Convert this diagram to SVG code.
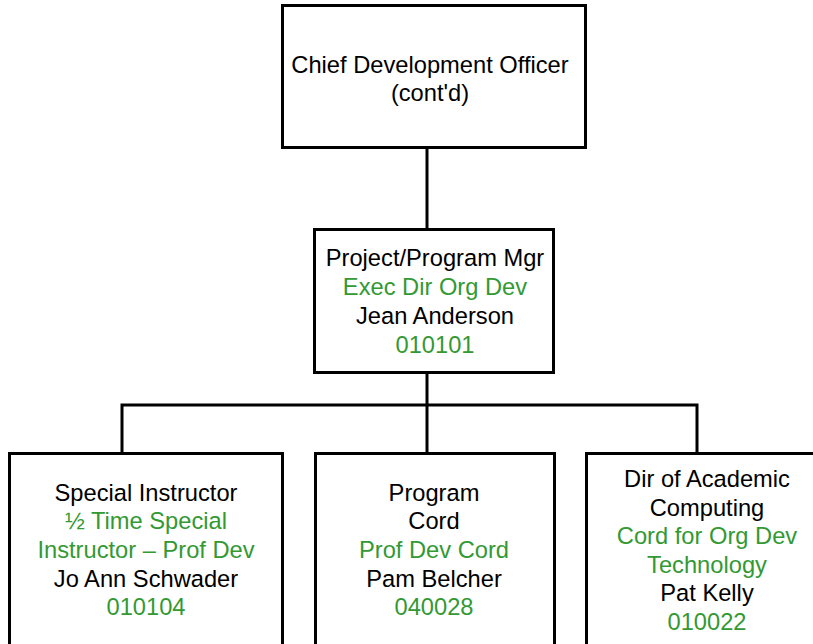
<svg xmlns="http://www.w3.org/2000/svg" width="813" height="644" viewBox="0 0 813 644">
<style>
.box{fill:#fff;stroke:#000;stroke-width:3}
.t{font-family:"Liberation Sans",Arial,sans-serif;font-size:23.7px;text-anchor:middle;fill:#000}
.g{fill:#339933}
.c{fill:none;stroke:#000;stroke-width:3}
</style>
<rect width="813" height="644" fill="#fff"/>
<g id="connectors">
<line class="c" x1="427" y1="147" x2="427" y2="229"/>
<line class="c" x1="427" y1="373" x2="427" y2="453"/>
<polyline class="c" points="122,453 122,405 697,405 697,453"/>
</g>
<g id="cdo">
<rect class="box" x="282.5" y="5.5" width="303" height="142"/>
<text class="t" x="430" y="73">Chief Development Officer</text>
<text class="t" x="430" y="101">(cont'd)</text>
</g>
<g id="ppm">
<rect class="box" x="314.5" y="229.5" width="239" height="143"/>
<text class="t" x="435" y="266">Project/Program Mgr</text>
<text class="t g" x="435" y="295">Exec Dir Org Dev</text>
<text class="t" x="435" y="324">Jean Anderson</text>
<text class="t g" x="435" y="353">010101</text>
</g>
<g id="si">
<rect class="box" x="9.5" y="453.5" width="273" height="192"/>
<text class="t" x="146" y="501">Special Instructor</text>
<text class="t g" x="146" y="529">½ Time Special</text>
<text class="t g" x="146" y="558">Instructor – Prof Dev</text>
<text class="t" x="146" y="587">Jo Ann Schwader</text>
<text class="t g" x="146" y="615">010104</text>
</g>
<g id="pc">
<rect class="box" x="315.5" y="453.5" width="239" height="192"/>
<text class="t" x="434" y="501">Program</text>
<text class="t" x="434" y="529">Cord</text>
<text class="t g" x="434" y="558">Prof Dev Cord</text>
<text class="t" x="434" y="587">Pam Belcher</text>
<text class="t g" x="434" y="615">040028</text>
</g>
<g id="dac">
<rect class="box" x="586.5" y="453.5" width="241" height="192"/>
<text class="t" x="707" y="487">Dir of Academic</text>
<text class="t" x="707" y="516">Computing</text>
<text class="t g" x="707" y="544">Cord for Org Dev</text>
<text class="t g" x="707" y="573">Technology</text>
<text class="t" x="707" y="601">Pat Kelly</text>
<text class="t g" x="707" y="630">010022</text>
</g>
</svg>
